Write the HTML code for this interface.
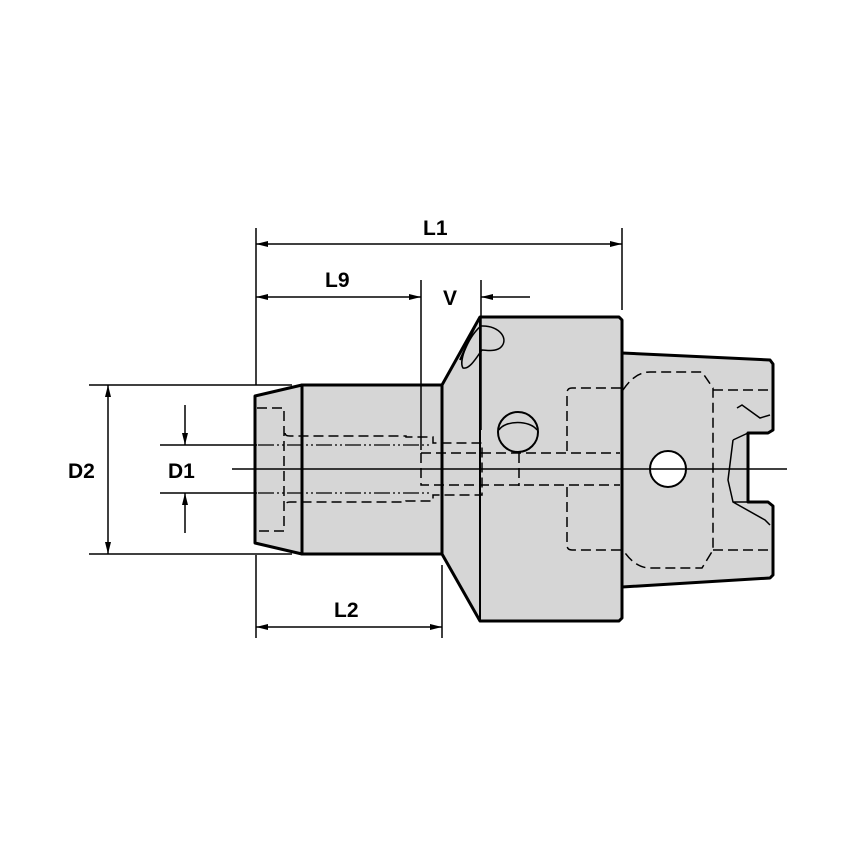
<!DOCTYPE html>
<html><head><meta charset="utf-8"><style>
html,body{margin:0;padding:0;background:#fff;}
svg{display:block;}
text{font-family:"Liberation Sans",Arial,sans-serif;font-size:21px;font-weight:bold;fill:#000;}
</style></head><body>
<svg width="854" height="854" viewBox="0 0 854 854" xmlns="http://www.w3.org/2000/svg">
<defs>
<marker id="a" viewBox="0 0 12 6" refX="12" refY="3" markerWidth="12" markerHeight="6" markerUnits="userSpaceOnUse" orient="auto-start-reverse"><path d="M0,0 L12,3 L0,6 Z" fill="#000"/></marker>
</defs>
<g fill="#d6d6d6" stroke="#000" stroke-width="3" stroke-linejoin="round">
<polygon points="622,353 770,360 773,364 773,430 768,433 748,433 748,502 768,502 773,506 773,575 770,578 622,587"/>
<polygon points="480,317 619,317 622,320 622,618 619,621 480,621 442,554 442,385"/>
<polygon points="302,385 442,385 442,554 302,554"/>
<polygon points="255,396 302,385 302,554 255,543"/>
</g>
<g stroke="#000" stroke-width="2" fill="none">
<line x1="480" y1="317" x2="480" y2="621"/>
<line x1="477" y1="322" x2="460" y2="360"/>
</g>
<path d="M481,326 C500,325 510,340 500,348 C494,352 486,350 482,350 C478,355 470,370 463,368 C458,360 470,335 481,326 Z" fill="none" stroke="#000" stroke-width="1.5"/>
<circle cx="518" cy="432" r="20" fill="#d6d6d6" stroke="#000" stroke-width="2"/>
<path d="M499,430 C505,420 530,420 537,430" fill="none" stroke="#000" stroke-width="1.5"/>
<circle cx="668" cy="469" r="18" fill="#fff" stroke="#000" stroke-width="2"/>
<g stroke="#000" stroke-width="1.5" fill="none" stroke-dasharray="10,5">
<path d="M257,408 H284 V531 H257"/>
<path d="M285,433 Q285,436 290,436 H406 V437 H433 V443 H482 V495 H433 V501 H406 V502 H290 Q285,502 285,506"/>
<path d="M421,453 H620"/>
<path d="M421,453 V485 H620"/>
<path d="M519,453 V486"/>
<path d="M567,451 V393 Q567,388 572,388 H623"/>
<path d="M567,487 V545 Q567,550 572,550 H623"/>
<path d="M623,390 Q635,372 650,372 H702 L713,388 V550 L702,568 H650 Q635,568 623,550"/>
<path d="M713,390 H770 M713,550 H770"/>
</g>
<g stroke="#000" stroke-width="1.2" fill="none" stroke-dasharray="16,3,2,3,2,3">
<path d="M258,445 H432 M258,493 H432"/>
</g>
<path d="M737,408 L742,405 L760,418 L770,415 M733,440 L728,480 L733,502 L765,520 L770,525 M733,440 L748,433 M733,502 L748,502" fill="none" stroke="#000" stroke-width="1.5"/>
<line x1="232" y1="469" x2="787" y2="469" stroke="#000" stroke-width="1.5"/>
<g stroke="#000" stroke-width="1.5" fill="none">
<line x1="256" y1="228" x2="256" y2="385"/>
<line x1="622" y1="228" x2="622" y2="310"/>
<line x1="421" y1="280" x2="421" y2="450"/>
<line x1="481" y1="280" x2="481" y2="430"/>
<line x1="256" y1="244" x2="622" y2="244" marker-start="url(#a)" marker-end="url(#a)"/>
<line x1="256" y1="297" x2="421" y2="297" marker-start="url(#a)" marker-end="url(#a)"/>
<line x1="530" y1="297" x2="481" y2="297" marker-end="url(#a)"/>
<line x1="89" y1="385" x2="292" y2="385"/>
<line x1="89" y1="554" x2="292" y2="554"/>
<line x1="108" y1="385" x2="108" y2="554" marker-start="url(#a)" marker-end="url(#a)"/>
<line x1="160" y1="445" x2="257" y2="445"/>
<line x1="160" y1="493" x2="257" y2="493"/>
<line x1="185" y1="405" x2="185" y2="445" marker-end="url(#a)"/>
<line x1="185" y1="533" x2="185" y2="493" marker-end="url(#a)"/>
<line x1="256" y1="555" x2="256" y2="638"/>
<line x1="442" y1="565" x2="442" y2="638"/>
<line x1="256" y1="627" x2="442" y2="627" marker-start="url(#a)" marker-end="url(#a)"/>
</g>
<text x="423" y="235">L1</text>
<text x="325" y="287">L9</text>
<text x="443" y="305">V</text>
<text x="68" y="478">D2</text>
<text x="168" y="478">D1</text>
<text x="334" y="617">L2</text>
</svg>
</body></html>
